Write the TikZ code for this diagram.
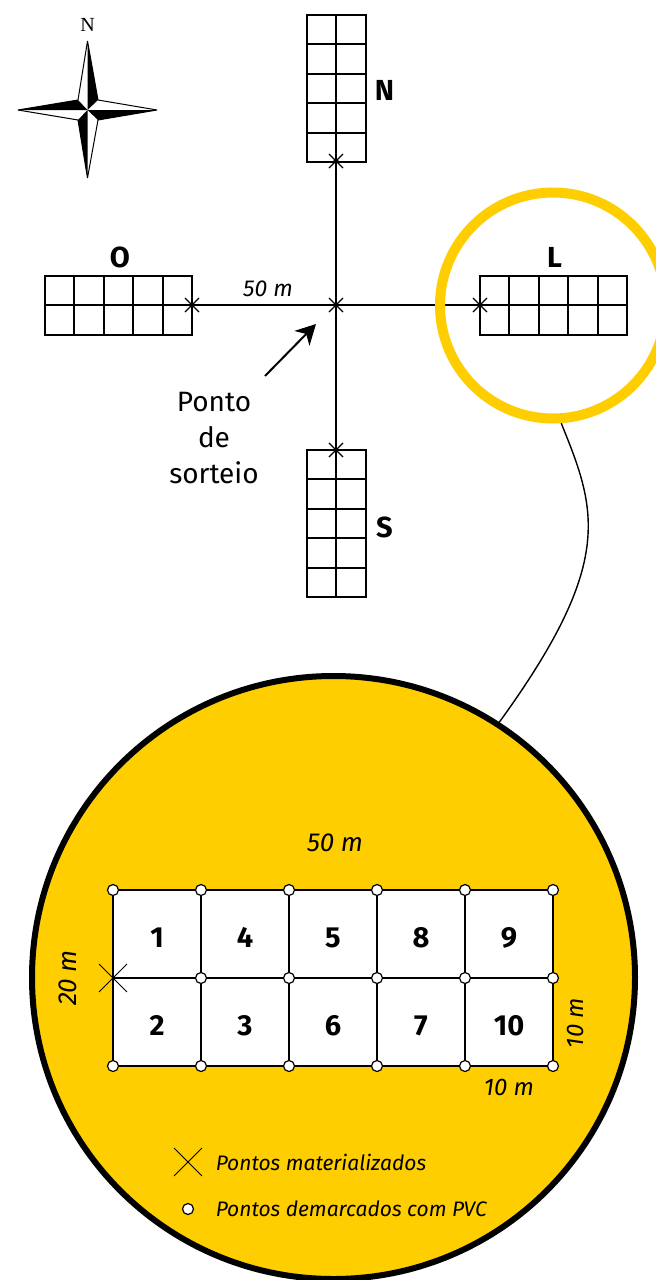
\documentclass[tikz,border=0pt]{standalone}
\usepackage{fontspec}
\usepackage{xcolor}
\usetikzlibrary{positioning,shapes.misc,arrows.meta}
\setmainfont{Fira Sans}
\newfontfamily\compassfont{Liberation Serif}
\definecolor{plotyellow}{HTML}{FFCE00}
\newcommand{\fsz}[1]{\fontsize{#1}{#1}\selectfont}

\begin{document}
\begin{tikzpicture}[
   x=1pt, y=-1pt,
   line width=1.5pt,
   smallcell/.style={draw, rectangle, minimum size=29.4pt, inner sep=0pt, line width=2.1pt},
   plotcell/.style={draw, rectangle, minimum size=88pt, inner sep=0pt, line width=2.5pt, text height=26pt, text depth=0pt, font=\fsz{29}\bfseries},
   smallcross/.style={draw=black, cross out, minimum size=13pt, inner sep=0pt, line width=1.1pt},
   bigcross/.style={draw=black, cross out, minimum size=27pt, inner sep=0pt, line width=0.9pt},
   pvcdot/.style={draw=black, fill=white, circle, minimum size=11pt, inner sep=0pt, line width=1.2pt},
   dirlabel/.style={font=\fsz{29}\bfseries},
   dimlabel/.style={font=\fsz{26}\itshape}
]
\clip (0,0) rectangle (656,1280);
\fill[white] (0,0) rectangle (656,1280);

% compass
\node[font=\compassfont\fsz{20}] (compassN) at (87.5,25) {N};
\draw[line width=1pt, fill=white, line join=bevel] (87.5,41) -- (98,100) -- (157,110) -- (98,120) -- (87.5,178) -- (78,120) -- (18,110) -- (78,100) -- cycle;
\fill[black] (87.5,41) -- (98,100) -- (87.5,110) -- cycle;
\fill[black] (18,110) -- (78,100) -- (87.5,110) -- cycle;
\fill[black] (87.5,178) -- (78,120) -- (87.5,110) -- cycle;
\fill[black] (157,110) -- (98,120) -- (87.5,110) -- cycle;

% arms
\coordinate (centre) at (336,305);
\foreach \i in {1,...,5} {
  \node[smallcell] (n\i1) at (321.7,29.7+29.4*\i-29.4) {};
  \node[smallcell] (n\i2) at (351.1,29.7+29.4*\i-29.4) {};
  \node[smallcell] (s\i1) at (321.7,464.7+29.4*\i-29.4) {};
  \node[smallcell] (s\i2) at (351.1,464.7+29.4*\i-29.4) {};
  \node[smallcell] (o\i1) at (59.7+29.4*\i-29.4,290.7) {};
  \node[smallcell] (o\i2) at (59.7+29.4*\i-29.4,320.1) {};
  \node[smallcell] (l\i1) at (494.7+29.4*\i-29.4,290.7) {};
  \node[smallcell] (l\i2) at (494.7+29.4*\i-29.4,320.1) {};
}
\node[smallcross] (crossN) at (336,161) {};
\node[smallcross] (crossS) at (336,450) {};
\node[smallcross] (crossO) at (192,305) {};
\node[smallcross] (crossL) at (480,305) {};
\node[smallcross] (crossC) at (centre) {};
\draw[line width=1.2pt] (crossN.center) -- (crossS.center);
\draw[line width=1.2pt] (crossO.center) -- (crossL.center);
\foreach \m in {N,S,O,L,C} {
  \fill[black] (cross\m.center) circle (2.6);
}

\node[dirlabel] (labelN) at (384.5,90) {N};
\node[dirlabel] (labelS) at (384.5,527) {S};
\node[dirlabel] (labelO) at (120,257) {O};
\node[dirlabel] (labelL) at (554.5,257) {L};
\node[font=\fsz{23}\itshape] (dist) at (268,289) {50 m};

\node[align=center, font=\fontsize{28}{36}\selectfont] (sorteio) at (214,438) {Ponto\\de\\sorteio};
\coordinate (arrowstart) at (265,376);
\coordinate (arrowend) at (316,324);
\draw[-{Stealth[length=20pt,width=21pt,inset=6pt]}, line width=2pt] (arrowstart) -- (arrowend);

% detail
\node[draw=plotyellow, circle, line width=10pt, minimum size=226pt, inner sep=0pt] (ring) at (553,305.5) {};
\node[draw=black, fill=plotyellow, circle, line width=6pt, minimum size=603pt, inner sep=0pt] (disk) at (333.5,977.5) {};
\draw[line width=1.4pt] (ring.-86) .. controls (596.5,510) and (615.5,562) .. (disk.57);

\node[dimlabel] (top) at (335,843) {50 m};
\node[dimlabel, rotate=90] (left) at (68,978) {20 m};
\node[font=\fsz{24}\itshape, rotate=90] (right) at (575,1023) {10 m};
\node[font=\fsz{24}\itshape] (bottom) at (509,1087) {10 m};

\fill[white] (113,890) rectangle (553,1066);
\foreach \c/\n/\t in {0/1/1,1/1/4,2/1/5,3/1/8,4/1/9,0/2/2,1/2/3,2/2/6,3/2/7,4/2/10} {
  \node[plotcell] (cell\t) at (157+88*\c,934+88*\n-88) {\t};
}
\foreach \c in {0,...,5} {
  \foreach \n in {0,2} {
    \node[pvcdot] (pvc\c\n) at (113+88*\c,890+88*\n) {};
  }
}
\foreach \c in {1,...,5} {
  \node[pvcdot] (pvc\c1) at (113+88*\c,978) {};
}
\node[bigcross] (bigcross) at (113,978) {};

\node[bigcross] (legcross) at (188,1162) {};
\node[pvcdot] (legdot) at (188,1209) {};
\node[font=\fsz{21}\itshape, anchor=west, inner sep=0pt] (legtext1) at (215,1162) {Pontos materializados};
\node[font=\fsz{21}\itshape, anchor=west, inner sep=0pt] (legtext2) at (215,1209) {Pontos demarcados com PVC};
\end{tikzpicture}
\end{document}
